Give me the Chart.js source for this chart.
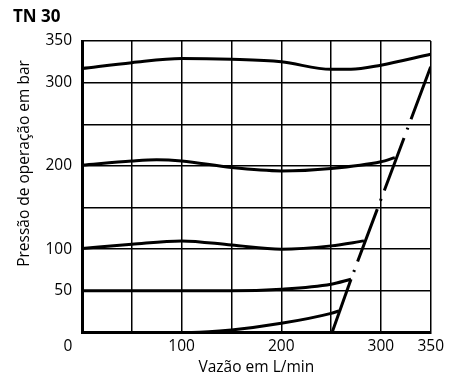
<!DOCTYPE html>
<html>
<head>
<meta charset="utf-8">
<script src="https://cdn.jsdelivr.net/npm/chart.js@4.4.0/dist/chart.umd.min.js"></script>
<style>
  html, body { margin: 0; padding: 0; background: #fff; }
  canvas { display: block; }
</style>
</head>
<body>
<canvas id="c" width="449" height="380"></canvas>
<script>
// ---- Data ----
const chartTitle = 'TN 30';
const xAxisTitle = 'Vazão em L/min';
const yAxisTitle = 'Pressão de operação em bar';

const xTickLabels = [0, 100, 200, 300, 350];
const yTickLabels = [50, 100, 200, 300, 350];

// Flow (L/min) and pressure (bar) for each curve
const flow320 = [0, 50, 100, 150, 200, 250, 270, 300, 350];
const pres320 = [317, 324, 329, 328, 325, 316, 316, 321, 334];

const flow200 = [0, 50, 75, 100, 150, 200, 250, 300, 314];
const pres200 = [201, 206, 207.5, 206, 198, 194, 197, 205, 210];

const flow100 = [0, 50, 100, 150, 200, 250, 283];
const pres100 = [101, 106, 110, 105, 100, 104, 110];

const flow50 = [0, 150, 200, 250, 270];
const pres50 = [50, 50, 52, 58, 64];

const flow0 = [0, 110, 150, 200, 250, 258];
const pres0 = [0, 0, 3, 11, 23, 26];

// Solid limit segment and dash-dot limit line
const flowLimit = [251, 270];
const presLimit = [0, 64];
const flowMax = [350, 270];
const presMax = [319, 64];

function pts(xs, ys) { return xs.map((x, i) => ({ x: x, y: ys[i] })); }

const curveStyle = {
  borderColor: '#000',
  borderWidth: 3,
  pointRadius: 0,
  fill: false,
  cubicInterpolationMode: 'monotone'
};

const FONT = "'Open Sans', 'DejaVu Sans', sans-serif";
Chart.defaults.font.family = FONT;
Chart.defaults.color = '#000';

const yTitlePlugin = {
  id: 'yTitle',
  afterDraw(chart) {
    const ctx = chart.ctx;
    ctx.save();
    ctx.translate(25, 163.5);
    ctx.rotate(-Math.PI / 2);
    ctx.font = "15.5px " + FONT;
    ctx.fillStyle = '#000';
    ctx.textAlign = 'center';
    ctx.textBaseline = 'middle';
    ctx.fillText(yAxisTitle, 0, 0);
    ctx.restore();
  }
};

new Chart(document.getElementById('c'), {
  type: 'line',
  data: {
    datasets: [
      Object.assign({ label: '320 bar', data: pts(flow320, pres320) }, curveStyle),
      Object.assign({ label: '200 bar', data: pts(flow200, pres200) }, curveStyle),
      Object.assign({ label: '100 bar', data: pts(flow100, pres100) }, curveStyle),
      Object.assign({ label: '50 bar', data: pts(flow50, pres50) }, curveStyle),
      Object.assign({ label: '0 bar', data: pts(flow0, pres0) }, curveStyle),
      Object.assign({ label: 'limite', data: pts(flowLimit, presLimit) }, curveStyle, { cubicInterpolationMode: 'default', tension: 0 }),
      {
        label: 'máximo',
        data: pts(flowMax, presMax),
        borderColor: '#000',
        borderWidth: 3,
        pointRadius: 0,
        fill: false,
        tension: 0,
        borderCapStyle: 'butt',
        borderDash: [56, 9, 2, 9]
      }
    ]
  },
  options: {
    responsive: false,
    animation: false,
    layout: { padding: { left: 13, top: 0, right: 17, bottom: 0 } },
    plugins: {
      legend: { display: false },
      tooltip: { enabled: false },
      title: {
        display: true,
        text: chartTitle,
        align: 'start',
        color: '#000',
        font: { family: FONT, size: 17, weight: 'bold' },
        padding: { top: 7.3, bottom: 13.3 }
      }
    },
    scales: {
      x: {
        type: 'linear',
        min: 0,
        max: 350,
        afterFit(scale) { scale.height = 47.5; },
        ticks: {
          stepSize: 50,
          padding: 5,
          maxRotation: 0,
          autoSkip: false,
          font: { size: 15.5 },
          color: '#000',
          callback(v) {
            if (!xTickLabels.includes(v)) return '';
            return v === 0 ? '0' + '\u00a0'.repeat(7) : String(v);
          }
        },
        grid: { color: '#000', lineWidth: 1.5, drawTicks: false },
        border: { display: true, color: '#000', width: 3 },
        title: {
          display: true,
          text: xAxisTitle,
          color: '#000',
          font: { size: 15.5 },
          padding: { top: 0, bottom: 3 }
        }
      },
      y: {
        type: 'linear',
        min: 0,
        max: 350,
        afterFit(scale) { scale.width = 69; },
        ticks: {
          stepSize: 50,
          padding: 10,
          autoSkip: false,
          font: { size: 15.5 },
          color: '#000',
          callback(v) { return yTickLabels.includes(v) ? String(v) : ''; }
        },
        grid: { color: '#000', lineWidth: 1.5, drawTicks: false },
        border: { display: true, color: '#000', width: 3 }
      }
    }
  },
  plugins: [yTitlePlugin]
});
</script>
</body>
</html>
